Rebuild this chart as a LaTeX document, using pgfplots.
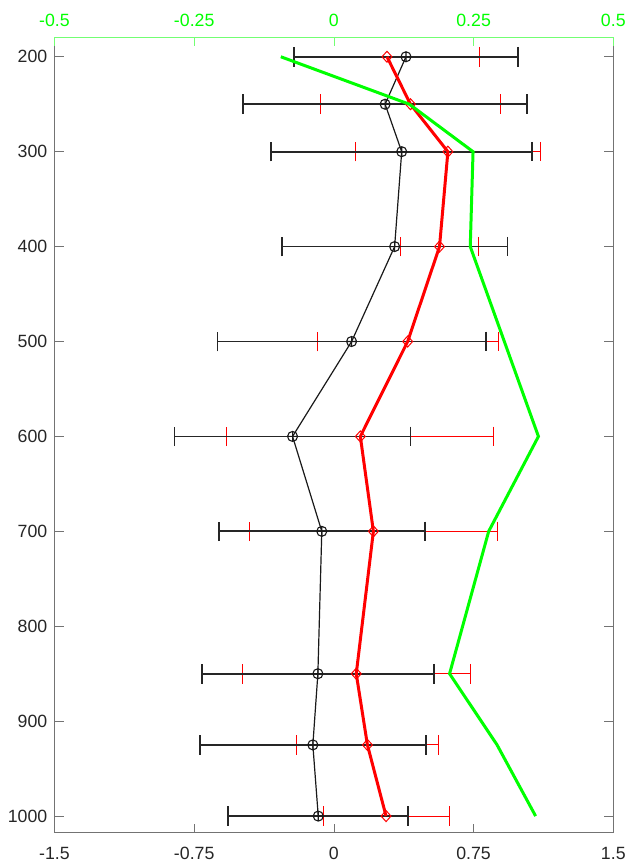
\documentclass[border=0pt]{standalone}
\usepackage{fontspec}
\setmainfont{Liberation Sans}
\usepackage{pgfplots}
\pgfplotsset{compat=1.18}
\usepackage{pgfplotstable}

\pgfplotstableread{
y x e
200 0.387 0.601
250 0.275 0.763
300 0.364 0.701
400 0.326 0.605
500 0.095 0.720
600 -0.222 0.633
700 -0.065 0.553
850 -0.086 0.623
925 -0.113 0.607
1000 -0.084 0.483
}\blackdata

\pgfplotstableread{
y x e
200 0.285 0.497
250 0.411 0.483
300 0.612 0.495
400 0.567 0.210
500 0.396 0.486
600 0.142 0.717
700 0.212 0.666
850 0.120 0.612
925 0.180 0.379
1000 0.280 0.338
}\reddata

\pgfplotstableread{
y x
200 -0.095
250 0.135
300 0.249
400 0.244
600 0.366
700 0.277
850 0.207
925 0.292
1000 0.361
}\greendata

\newcommand{\tfont}{\fontsize{17.8}{20}\selectfont}

\begin{document}
\begin{tikzpicture}
\path[use as bounding box] (0,0) rectangle (628bp,864bp);
\begin{axis}[
  at={(54.5bp,31.3bp)}, anchor=south west,
  scale only axis, width=558.8bp, height=795.4bp,
  xmin=-1.5, xmax=1.5, ymin=179.5, ymax=1017.5, y dir=reverse,
  xtick={-1.5,-0.75,0,0.75,1.5}, xticklabels={-1.5,-0.75,0,0.75,1.5},
  ytick={200,300,400,500,600,700,800,900,1000},
  yticklabels={200,300,400,500,600,700,800,900,1000},
  xtick pos=bottom,
  tick align=inside, major tick length=9bp,
  axis line style={draw=black!55, line width=0.6bp},
  tick style={draw=black!55, line width=0.6bp},
  tick label style={font=\tfont, text=black!85},
  xticklabel style={inner sep=0pt, yshift=-14bp},
  yticklabel style={inner sep=0pt, xshift=-7bp},
  clip=false,
]
\addplot[draw=none, mark=none, forget plot,
  error bars/.cd, x dir=both, x explicit, error mark=|,
  error bar style={draw=red, line width=1bp},
  error mark options={draw=red, mark size=7bp, line width=1bp, yscale=1.4}]
  table[x=x, y=y, x error=e] \reddata;
\addplot[black!90, line width=1.2bp, mark=oplus, mark size=5bp,
  mark options={line width=1.1bp, solid},
  error bars/.cd, x dir=both, x explicit, error mark=|,
  error bar style={draw=black!85, line width=1.7bp},
  error mark options={draw=black!85, mark size=7bp, line width=1.6bp, yscale=1.4}]
  table[x=x, y=y, x error=e] \blackdata;
\addplot[red, line width=3bp, mark=diamond, mark size=5.5bp,
  mark options={line width=1bp, solid, xscale=1.2}]
  table[x=x, y=y] \reddata;
\end{axis}
\begin{axis}[
  at={(54.5bp,31.3bp)}, anchor=south west,
  scale only axis, width=558.8bp, height=795.4bp,
  xmin=-0.5, xmax=0.5, ymin=179.5, ymax=1017.5, y dir=reverse,
  axis x line*=top, axis y line=none,
  xtick={-0.5,-0.25,0,0.25,0.5}, xticklabels={-0.5,-0.25,0,0.25,0.5},
  tick align=inside, major tick length=9bp,
  x axis line style={draw=green!55, line width=0.8bp, -},
  tick style={draw=green!55, line width=0.8bp},
  xticklabel style={font=\tfont, text=green, inner sep=0pt, yshift=10.5bp},
  clip=false,
]
\addplot[green, line width=3bp] table[x=x, y=y] \greendata;
\end{axis}
\end{tikzpicture}
\end{document}
